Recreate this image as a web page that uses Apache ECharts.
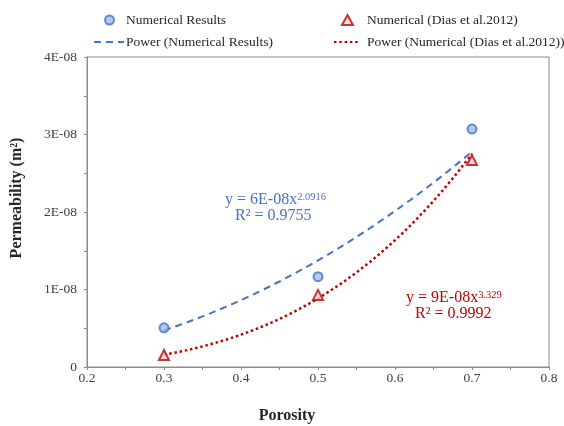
<!DOCTYPE html>
<html>
<head>
<meta charset="utf-8">
<script src="https://cdn.jsdelivr.net/npm/echarts@6/dist/echarts.min.js"></script>
<style>
html, body { margin: 0; padding: 0; background: #fff; }
#main { width: 564px; height: 426px; }
</style>
</head>
<body>
<div id="main"></div>
<script>
// 数据
var porosity = [0.3, 0.5, 0.7];
var numResults = [5.05e-9, 1.165e-8, 3.07e-8];
var diasResults = [1.55e-9, 9.3e-9, 2.67e-8];
var xTicks = [0.2, 0.3, 0.4, 0.5, 0.6, 0.7, 0.8];
var yTicks = ['0', '1E-08', '2E-08', '3E-08', '4E-08'];

var blue = '#4472C4';
var red = '#C00000';
var font = 'Liberation Serif';

// 幂函数拟合 (ln y = ln a + b ln x)
function powerFit(xs, ys) {
	var n = xs.length, sx = 0, sy = 0, sxx = 0, sxy = 0;
	for (var i = 0; i < n; i++) {
		var lx = Math.log(xs[i]), ly = Math.log(ys[i]);
		sx += lx; sy += ly; sxx += lx * lx; sxy += lx * ly;
	}
	var b = (n * sxy - sx * sy) / (n * sxx - sx * sx);
	var a = Math.exp((sy - b * sx) / n);
	var pts = [];
	for (var k = 0; k <= 40; k++) {
		var x = xs[0] + (xs[n - 1] - xs[0]) * k / 40;
		pts.push([x, a * Math.pow(x, b)]);
	}
	return pts;
}

function pairs(xs, ys) {
	return xs.map(function (x, i) { return [x, ys[i]]; });
}

var myChart = echarts.init(document.getElementById('main'));

function legendText(pad) {
	return { fontFamily: font, fontSize: 13.5, color: '#262626', padding: [0, 0, 0, pad] };
}

var axisGrey = '#8c8c8c';

var option = {
	backgroundColor: '#fff',
	animation: false,
	grid: {
		left: 87, right: 15, top: 57, bottom: 59,
		show: true, borderColor: axisGrey, borderWidth: 1
	},
	legend: [
		{ left: 99, top: 8, itemWidth: 9, itemHeight: 9,
			data: [{ name: 'Numerical Results', icon: 'circle' }], textStyle: legendText(7) },
		{ left: 336, top: 8, itemWidth: 11, itemHeight: 10,
			data: [{ name: 'Numerical (Dias et al.2012)', icon: 'triangle' }], textStyle: legendText(9) },
		{ left: 88, top: 30, itemWidth: 30, itemHeight: 10,
			data: [{ name: 'Power (Numerical Results)', itemStyle: { opacity: 0 } }], textStyle: legendText(-3) },
		{ left: 328, top: 30, itemWidth: 26, itemHeight: 10,
			data: [{ name: 'Power (Numerical (Dias et al.2012))', itemStyle: { opacity: 0 } }], textStyle: legendText(2) }
	],
	xAxis: {
		type: 'value',
		min: 0.2, max: 0.8, interval: 0.1,
		axisLine: { lineStyle: { color: axisGrey } },
		axisTick: { show: true, length: 3, lineStyle: { color: axisGrey } },
		minorTick: { show: true, splitNumber: 2, length: 3, lineStyle: { color: axisGrey } },
		splitLine: { show: false },
		axisLabel: {
			fontFamily: font, fontSize: 13.5, color: '#404040', margin: 4,
			formatter: function (v) { return v.toFixed(1); }
		}
	},
	yAxis: {
		type: 'value',
		min: 0, max: 4e-8, interval: 1e-8,
		axisLine: { show: true, lineStyle: { color: axisGrey } },
		axisTick: { show: true, length: 3, lineStyle: { color: axisGrey } },
		minorTick: { show: true, splitNumber: 2, length: 3, lineStyle: { color: axisGrey } },
		splitLine: { show: false },
		axisLabel: {
			fontFamily: font, fontSize: 13.5, color: '#404040', margin: 10,
			formatter: function (v) { return yTicks[Math.round(v / 1e-8)]; }
		}
	},
	series: [
		{
			name: 'Power (Numerical Results)',
			type: 'line',
			data: powerFit(porosity, numResults),
			symbol: 'none',
			lineStyle: { color: blue, width: 2, type: [7, 5] },
			itemStyle: { color: blue },
			z: 2
		},
		{
			name: 'Power (Numerical (Dias et al.2012))',
			type: 'line',
			data: powerFit(porosity, diasResults),
			symbol: 'none',
			lineStyle: { color: red, width: 2.5, type: [2.5, 2.8] },
			itemStyle: { color: red },
			z: 2
		},
		{
			name: 'Numerical Results',
			type: 'scatter',
			data: pairs(porosity, numResults),
			symbol: 'circle',
			symbolSize: 9,
			itemStyle: { color: '#9DBCE8', borderColor: blue, borderWidth: 2 },
			z: 3
		},
		{
			name: 'Numerical (Dias et al.2012)',
			type: 'scatter',
			data: pairs(porosity, diasResults),
			symbol: 'triangle',
			symbolSize: 10,
			itemStyle: { color: '#F8D6D6', borderColor: red, borderWidth: 2 },
			z: 3
		}
	],
	graphic: [
		{
			type: 'text', left: 225, top: 192,
			style: {
				text: '{a|y = 6E-08x}{b|2.0916}\n{c|R² = 0.9755}',
				fill: blue,
				rich: {
					a: { fontFamily: font, fontSize: 16, color: blue, lineHeight: 16 },
					b: { fontFamily: font, fontSize: 10.5, color: blue, verticalAlign: 'top', lineHeight: 16 },
					c: { fontFamily: font, fontSize: 16, color: blue, lineHeight: 16, padding: [0, 0, 0, 10] }
				}
			}
		},
		{
			type: 'text', left: 406, top: 290,
			style: {
				text: '{a|y = 9E-08x}{b|3.329}\n{c|R² = 0.9992}',
				fill: red,
				rich: {
					a: { fontFamily: font, fontSize: 16, color: red, lineHeight: 16 },
					b: { fontFamily: font, fontSize: 10.5, color: red, verticalAlign: 'top', lineHeight: 16 },
					c: { fontFamily: font, fontSize: 16, color: red, lineHeight: 16, padding: [0, 0, 0, 9] }
				}
			}
		},
		{
			type: 'text', x: 17, y: 198, rotation: Math.PI / 2,
			style: {
				text: 'Permeability (m²)', fontFamily: font, fontSize: 16, fontWeight: 'bold',
				fill: '#262626', align: 'center', verticalAlign: 'middle'
			}
		},
		{
			type: 'text', x: 287, y: 416,
			style: {
				text: 'Porosity', fontFamily: font, fontSize: 16, fontWeight: 'bold',
				fill: '#262626', align: 'center', verticalAlign: 'middle'
			}
		}
	]
};

myChart.setOption(option);
</script>
</body>
</html>
